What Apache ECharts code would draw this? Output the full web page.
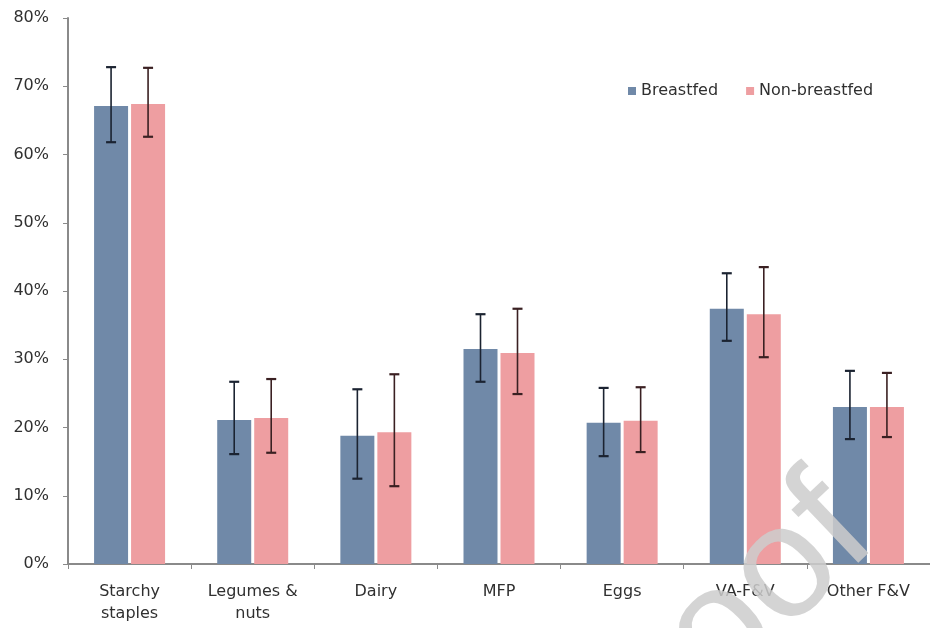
<!DOCTYPE html>
<html>
<head>
<meta charset="utf-8">
<script src="https://cdn.jsdelivr.net/npm/echarts@6/dist/echarts.min.js"></script>
<style>
  html, body { margin: 0; padding: 0; background: #ffffff; }
  #chart { width: 930px; height: 628px; }
</style>
</head>
<body>
<div id="chart"></div>
<script>
// Food group categories (x axis)
const categories = ['Starchy\nstaples', 'Legumes &\nnuts', 'Dairy', 'MFP', 'Eggs', 'VA-F&V', 'Other F&V'];

// Percent consuming each group
const breastfed    = [67.1, 21.1, 18.8, 31.5, 20.7, 37.4, 23.0];
const nonBreastfed = [67.4, 21.4, 19.3, 30.9, 21.0, 36.6, 23.0];

// 95% confidence interval bounds
const breastfedLow     = [61.8, 16.1, 12.5, 26.7, 15.8, 32.7, 18.3];
const breastfedHigh    = [72.8, 26.7, 25.6, 36.6, 25.8, 42.6, 28.3];
const nonBreastfedLow  = [62.6, 16.3, 11.4, 24.9, 16.4, 30.3, 18.6];
const nonBreastfedHigh = [72.7, 27.1, 27.8, 37.4, 25.9, 43.5, 28.0];

// Y axis ticks
const yTicks = [0, 10, 20, 30, 40, 50, 60, 70, 80];

const BAR_W = 34;
const BAR_GAP = 3;
const FONT = '"DejaVu Sans", "Open Sans", sans-serif';
const TEXT_COLOR = '#303030';

function errorSeries(name, low, high, side, color) {
  const data = low.map((l, i) => [i, l, high[i]]);
  return {
    type: 'custom',
    name: name,
    silent: true,
    z: 5,
    data: data,
    renderItem: function (params, api) {
      const idx = api.value(0);
      const lo = api.coord([idx, api.value(1)]);
      const hi = api.coord([idx, api.value(2)]);
      const x = lo[0] + side * (BAR_W + BAR_GAP) / 2;
      const cap = 5;
      const style = { stroke: color, lineWidth: 1.6 };
      return {
        type: 'group',
        children: [
          { type: 'line', shape: { x1: x, y1: lo[1], x2: x, y2: hi[1] }, style: style },
          { type: 'line', shape: { x1: x - cap, y1: lo[1], x2: x + cap, y2: lo[1] }, style: { stroke: color, lineWidth: 2.2 } },
          { type: 'line', shape: { x1: x - cap, y1: hi[1], x2: x + cap, y2: hi[1] }, style: { stroke: color, lineWidth: 2.2 } }
        ]
      };
    }
  };
}

const chart = echarts.init(document.getElementById('chart'), null, { renderer: 'canvas' });

chart.setOption({
  backgroundColor: '#ffffff',
  animation: false,
  textStyle: { fontFamily: FONT },
  grid: { left: 68, right: -12, top: 18, bottom: 64, containLabel: false },
  legend: {
    data: ['Breastfed', 'Non-breastfed'],
    left: 623,
    top: 78,
    icon: 'rect',
    itemWidth: 8,
    itemHeight: 8,
    itemGap: 28,
    textStyle: { fontSize: 16, color: TEXT_COLOR, fontFamily: FONT }
  },
  xAxis: {
    type: 'category',
    data: categories,
    axisLine: { lineStyle: { color: '#8a8a8a', width: 2 } },
    axisTick: { show: true, alignWithLabel: false, length: 5, lineStyle: { color: '#8a8a8a', width: 1 } },
    axisLabel: { fontSize: 16, color: TEXT_COLOR, lineHeight: 22, margin: 17, interval: 0, fontFamily: FONT }
  },
  yAxis: {
    type: 'value',
    min: yTicks[0],
    max: yTicks[yTicks.length - 1],
    interval: 10,
    axisLine: { show: true, lineStyle: { color: '#8a8a8a', width: 2 } },
    axisTick: { show: true, length: 5, lineStyle: { color: '#8a8a8a', width: 1 } },
    splitLine: { show: false },
    axisLabel: { fontSize: 16, color: TEXT_COLOR, margin: 19, formatter: '{value}%', fontFamily: FONT }
  },
  series: [
    {
      name: 'Breastfed',
      type: 'bar',
      data: breastfed,
      barWidth: BAR_W,
      barGap: (BAR_GAP / BAR_W * 100) + '%',
      itemStyle: { color: '#7089a8' }
    },
    {
      name: 'Non-breastfed',
      type: 'bar',
      data: nonBreastfed,
      barWidth: BAR_W,
      itemStyle: { color: '#ee9ea1' }
    },
    errorSeries('Breastfed CI', breastfedLow, breastfedHigh, -1, '#1b2331'),
    errorSeries('Non-breastfed CI', nonBreastfedLow, nonBreastfedHigh, 1, '#3a2022')
  ],
  graphic: [
    {
      type: 'text',
      x: 905,
      y: 568,
      rotation: 0.76,
      z: 100,
      silent: true,
      style: {
        text: 'Pre-proof',
        align: 'right',
        verticalAlign: 'bottom',
        fontSize: 160,
        fontFamily: 'Arial, "Liberation Sans", sans-serif',
        fill: 'rgba(205,205,205,0.85)'
      }
    }
  ]
});
</script>
</body>
</html>
